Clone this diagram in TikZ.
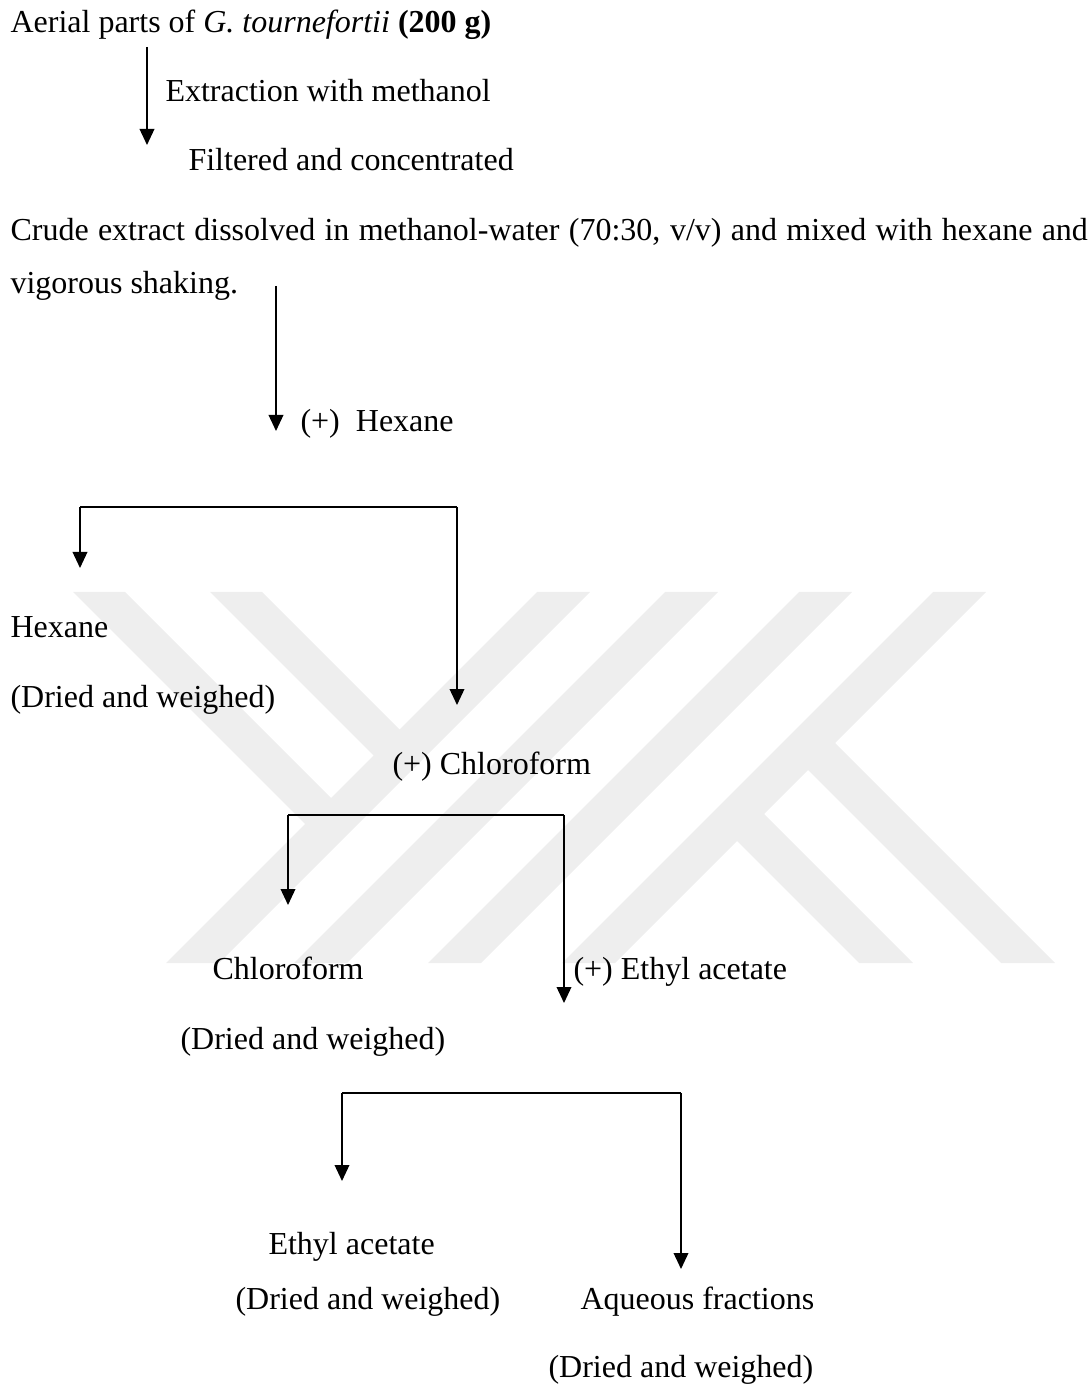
\documentclass[tikz,border=0pt]{standalone}
\usepackage{fontspec}
\setmainfont{Liberation Serif}
\usepackage{tikz}
\usetikzlibrary{arrows.meta}
\definecolor{markColor}{RGB}{238,238,238}

\begin{document}
\begin{tikzpicture}[x=0.375pt,y=-0.375pt]

          \tikzstyle{textNode} = [anchor=base west,inner sep=0pt,font=\fontsize{12}{14}\selectfont];
          \tikzstyle{flowEdge} = [-{Triangle[length=6pt,width=5.5pt]},line width=0.55pt];
          \tikzstyle{barEdge} = [line width=0.85pt];
          \tikzstyle{markBand} = [fill=markColor];

          \useasboundingbox (0,0) rectangle (1090,1385);

          \fill[markBand] (73,592) -- (125,592) -- (344,811) -- (318,837) -- cycle;
          \fill[markBand] (210,592) -- (262,592) -- (412,742) -- (386,768) -- cycle;
          \fill[markBand] (537,592) -- (590,592) -- (219,963) -- (166,963) -- cycle;
          \fill[markBand] (665,592) -- (718,592) -- (347,963) -- (294,963) -- cycle;
          \fill[markBand] (799,592) -- (852,592) -- (481,963) -- (428,963) -- cycle;
          \fill[markBand] (933,592) -- (986,592) -- (615,963) -- (562,963) -- cycle;
          \fill[markBand] (815,723) -- (1055,963) -- (1001,963) -- (788,750) -- cycle;
          \fill[markBand] (744,794) -- (913,963) -- (859,963) -- (717,821) -- cycle;

          \node[textNode] (aerial) at (10,33) {Aerial parts of \textit{G. tournefortii} \textbf{(200 g)}};
          \node[textNode] (extr) at (165,102) {Extraction with methanol};
          \node[textNode] (filt) at (188,171) {Filtered and concentrated};
          \node[textNode] (crude) at (10,241) {\hbox to 404pt{Crude extract dissolved in methanol-water (70:30, v/v) and mixed with hexane and}};
          \node[textNode] (shake) at (10,294) {vigorous shaking.};
          \node[textNode] (addHex) at (300,432) {(+)~~Hexane};
          \node[textNode] (hex) at (10,638) {Hexane};
          \node[textNode] (dryHex) at (10,707) {(Dried and weighed)};
          \node[textNode] (addChl) at (392,774) {(+) Chloroform};
          \node[textNode] (chl) at (212,979) {Chloroform};
          \node[textNode] (addEth) at (573,979) {(+) Ethyl acetate};
          \node[textNode] (dryChl) at (180,1049) {(Dried and weighed)};
          \node[textNode] (eth) at (268,1254) {Ethyl acetate};
          \node[textNode] (dryEth) at (235,1309) {(Dried and weighed)};
          \node[textNode] (aq) at (580,1309) {Aqueous fractions};
          \node[textNode] (dryAq) at (548,1377) {(Dried and weighed)};

          \coordinate (a1s) at (147,47);
          \coordinate (a1e) at (147,145);
          \coordinate (a2s) at (276,286);
          \coordinate (a2e) at (276,431);

          \coordinate (b1l) at (80,507);
          \coordinate (b1r) at (457,507);
          \coordinate (b1lt) at (80,568);
          \coordinate (b1rt) at (457,705);

          \coordinate (b2l) at (288,815);
          \coordinate (b2r) at (564,815);
          \coordinate (b2lt) at (288,905);
          \coordinate (b2rt) at (564,1003);

          \coordinate (b3l) at (342,1093);
          \coordinate (b3r) at (681,1093);
          \coordinate (b3lt) at (342,1181);
          \coordinate (b3rt) at (681,1269);

          \draw[flowEdge] (a1s) -- (a1e);
          \draw[flowEdge] (a2s) -- (a2e);

          \draw[barEdge] (b1l) -- (b1r);
          \draw[flowEdge] (b1l) -- (b1lt);
          \draw[flowEdge] (b1r) -- (b1rt);

          \draw[barEdge] (b2l) -- (b2r);
          \draw[flowEdge] (b2l) -- (b2lt);
          \draw[flowEdge] (b2r) -- (b2rt);

          \draw[barEdge] (b3l) -- (b3r);
          \draw[flowEdge] (b3l) -- (b3lt);
          \draw[flowEdge] (b3r) -- (b3rt);
        \end{tikzpicture}
\end{document}
